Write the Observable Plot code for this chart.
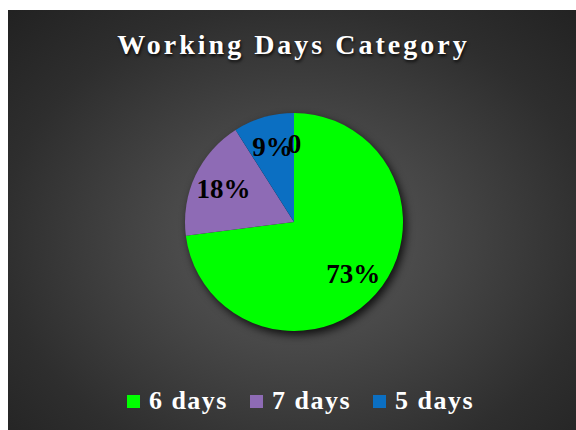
<!DOCTYPE html>
<html><head><meta charset="utf-8">
<script src="https://cdn.jsdelivr.net/npm/d3@7"></script>
<script src="https://cdn.jsdelivr.net/npm/@observablehq/plot@0.6"></script>
<style>
html,body{margin:0;padding:0;background:#fff;width:576px;height:430px;overflow:hidden;}
#panel{position:absolute;left:8px;top:10px;width:568px;height:420px;
  background:radial-gradient(ellipse 75% 80% at 51% 55%, #5c5c5c 0%, #464646 35%, #2e2e2e 70%, #202020 100%);}
#title{position:absolute;left:0;top:21px;width:100%;text-align:center;color:#fff;
  font-family:"Liberation Serif",serif;font-weight:bold;font-size:28px;line-height:28px;
  letter-spacing:3px;padding-left:3px;box-sizing:border-box;text-shadow:1px 2px 3px rgba(0,0,0,0.8);}
#chart{position:absolute;left:0;top:90px;}
#legend{position:absolute;left:0;top:378px;width:100%;display:flex;justify-content:center;
  padding-left:17px;box-sizing:border-box;font-family:"Liberation Serif",serif;font-weight:bold;
  font-size:26px;line-height:26px;color:#fff;letter-spacing:1.5px;}
.item{display:flex;align-items:center;margin:0 11px;}
.sw{width:13px;height:13px;margin-right:9px;position:relative;top:0px;}
</style>
</head><body>
<div id="panel">
  <div id="title"></div>
  <div id="chart"></div>
  <div id="legend"></div>
</div>
<script>
const title = "Working Days Category";
const categories = ["6 days", "7 days", "5 days", ""];
const shares = [73, 18, 9, 0];
const labels = ["73%", "18%", "9%", "0"];
const legendCategories = ["6 days", "7 days", "5 days"];
const colors = ["#00ff00", "#8e6bb5", "#0b6fc2", "#888888"];

document.getElementById("title").textContent = title;

const data = categories.map((c, i) => ({category: c, share: shares[i], label: labels[i]}));
const arcs = d3.pie().sort(null).value(d => d.share)(data);
const mids = arcs.map(a => (a.startAngle + a.endAngle) / 2);
const labelR = 0.72;

const chart = Plot.plot({
  width: 568,
  height: 250,
  margin: 0,
  style: {background: "transparent", overflow: "visible"},
  x: {domain: [-1, 1], range: [177, 395], axis: null},
  y: {domain: [-1, 1], range: [231, 13], axis: null},
  color: {domain: categories, range: colors},
  marks: [
    Plot.dot(data, {
      x: () => 0, y: () => 0, fill: "category",
      render: (index, scales, values) => {
        const cx = scales.x(0), cy = scales.y(0), r = scales.x(1) - scales.x(0);
        const pie = d3.pie().sort(null).value(i => data[i].share)(index);
        const arcGen = d3.arc().innerRadius(0).outerRadius(r);
        const g = d3.create("svg:g")
          .attr("transform", `translate(${cx},${cy})`)
          .style("filter", "drop-shadow(3px 4px 4px rgba(0,0,0,0.8))");
        g.selectAll("path").data(pie.filter(a => a.endAngle > a.startAngle)).join("path")
          .attr("d", arcGen)
          .attr("fill", a => values.fill[a.data]);
        return g.node();
      }
    }),
    Plot.text(data, {
      x: (d, i) => labelR * Math.sin(mids[i]),
      y: (d, i) => labelR * Math.cos(mids[i]),
      text: "label",
      fill: "#000",
      fontSize: 27,
      fontWeight: "bold",
      fontFamily: "Liberation Serif"
    })
  ]
});
document.getElementById("chart").appendChild(chart);

const legend = document.getElementById("legend");
const colorScale = chart.scale("color");
legendCategories.forEach(c => {
  const item = document.createElement("div");
  item.className = "item";
  const sw = document.createElement("span");
  sw.className = "sw";
  sw.style.background = colorScale.apply(c);
  const t = document.createElement("span");
  t.textContent = c;
  item.appendChild(sw); item.appendChild(t);
  legend.appendChild(item);
});
</script>
</body></html>
